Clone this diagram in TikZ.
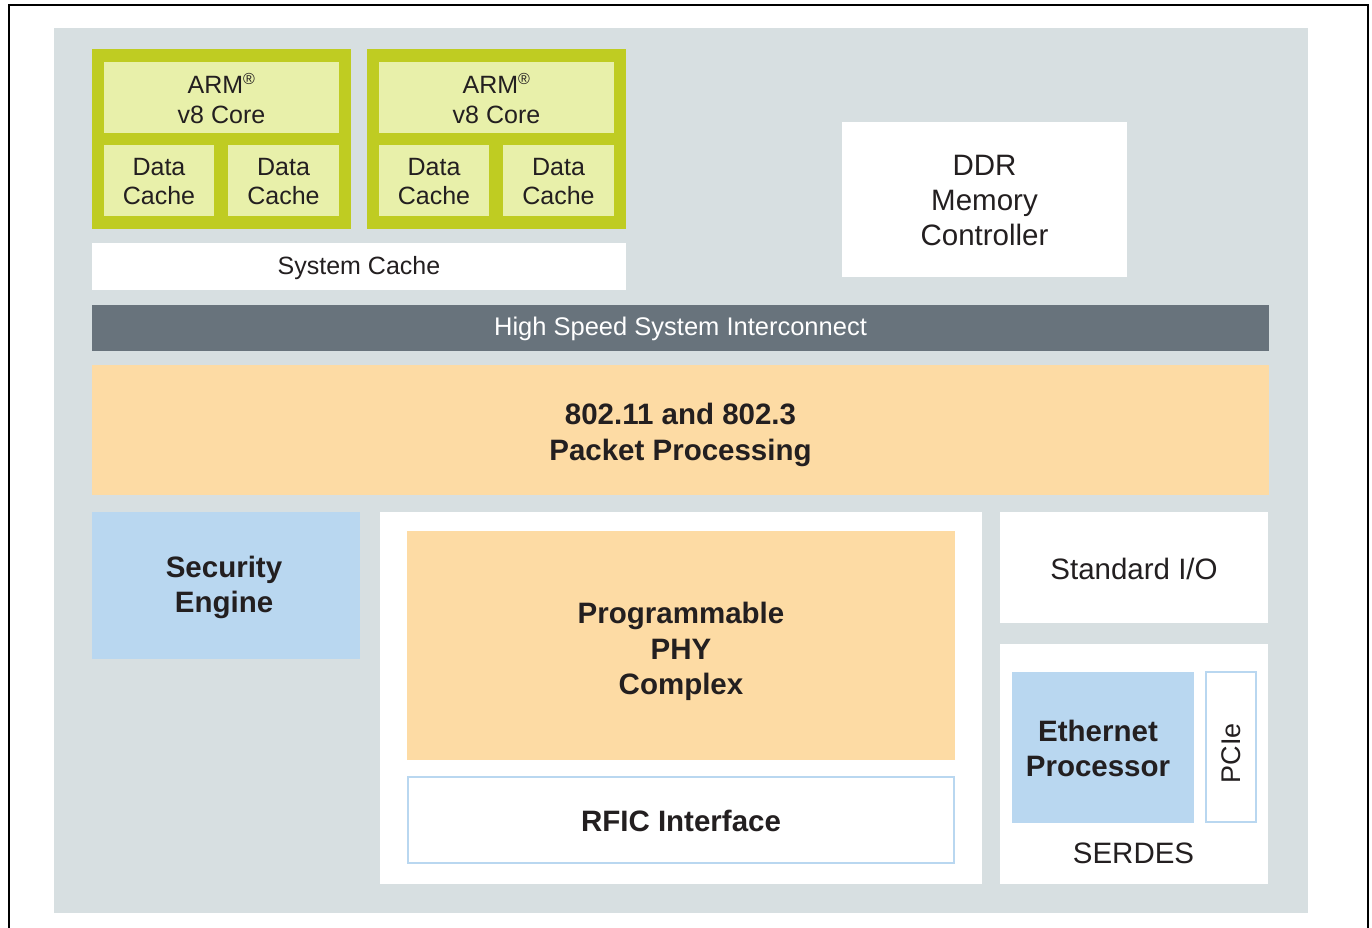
\documentclass[tikz,border=0pt]{standalone}
\usepackage{fontspec}
\setmainfont{Liberation Sans}
\usetikzlibrary{fit}
\definecolor{panel}{HTML}{D7DFE1}
\definecolor{greendark}{HTML}{BFCC22}
\definecolor{greenlight}{HTML}{E8F0AA}
\definecolor{slate}{HTML}{68737C}
\definecolor{peach}{HTML}{FDDBA4}
\definecolor{skyblue}{HTML}{B9D7F0}
\definecolor{txt}{HTML}{231F20}
\newcommand{\fsmall}{\fontsize{25}{29.5}\selectfont}
\newcommand{\fmid}{\fontsize{25.5}{30}\selectfont}
\newcommand{\fbig}{\fontsize{29.5}{35.4}\selectfont}
\newcommand{\regmark}{\textsuperscript{\fontsize{16}{16}\selectfont ®}}
\tikzset{
  blk/.style={inner sep=0pt, outer sep=0pt, draw=none, align=center, text=txt},
  plain/.style={blk, font=\fbig},
  bold/.style={blk, font=\fbig\bfseries},
  small/.style={blk, font=\fsmall},
  outlined/.style={blk, fill=white, draw=skyblue, line width=2pt},
  border/.style={draw=black, line width=2pt}
}
\begin{document}
\begin{tikzpicture}[x=1pt,y=-1pt]
\useasboundingbox (0,0) rectangle (1372,928);
\fill[white] (0,0) rectangle (1372,928);
\draw[border] (9,928) -- (9,5) -- (1368,5) -- (1368,928);
% panel
\node[blk, fill=panel, fit={(54,28) (1308,913)}] (panel) {};
% core 1
\node[blk, fill=greendark, fit={(92,49) (351,229)}] (core1) {};
\node[blk, fill=greenlight, fit={(104,62) (339,133)}] (arm1) {};
\node[small] at ([yshift=-1pt]arm1.center) {ARM\regmark\\v8 Core};
\node[blk, fill=greenlight, fit={(104,145) (214,216)}] (dc1a) {};
\node[small] at ([yshift=-1pt]dc1a.center) {Data\\Cache};
\node[blk, fill=greenlight, fit={(228,145) (339,216)}] (dc1b) {};
\node[small] at ([yshift=-1pt]dc1b.center) {Data\\Cache};
% core 2
\node[blk, fill=greendark, fit={(367,49) (626,229)}] (core2) {};
\node[blk, fill=greenlight, fit={(379,62) (614,133)}] (arm2) {};
\node[small] at ([yshift=-1pt]arm2.center) {ARM\regmark\\v8 Core};
\node[blk, fill=greenlight, fit={(379,145) (489,216)}] (dc2a) {};
\node[small] at ([yshift=-1pt]dc2a.center) {Data\\Cache};
\node[blk, fill=greenlight, fit={(503,145) (614,216)}] (dc2b) {};
\node[small] at ([yshift=-1pt]dc2b.center) {Data\\Cache};
% system cache
\node[blk, fill=white, fit={(92,243) (626,290)}] (syscache) {};
\node[small] at ([yshift=-2pt]syscache.center) {System Cache};
% DDR
\node[blk, fill=white, fit={(842,122) (1127,277)}] (ddr) {};
\node[plain] at ([yshift=-1pt]ddr.center) {DDR\\Memory\\Controller};
% interconnect
\node[blk, fill=slate, fit={(92,305) (1269,351)}] (hssi) {};
\node[blk, font=\fmid, text=white] at ([yshift=-1pt]hssi.center) {High Speed System Interconnect};
% packet processing
\node[blk, fill=peach, fit={(92,365) (1269,495)}] (pkt) {};
\node[bold] at ([yshift=-5pt]pkt.center) {802.11 and 802.3\\Packet Processing};
% security engine
\node[blk, fill=skyblue, fit={(92,512) (360,659)}] (sec) {};
\node[bold] at ([xshift=-2pt,yshift=-2pt]sec.center) {Security\\Engine};
% middle block
\node[blk, fill=white, fit={(380,512) (982,884)}] (mid) {};
\node[blk, fill=peach, fit={(407,531) (955,760)}] (phy) {};
\node[bold] at ([yshift=-6pt]phy.center) {Programmable\\PHY\\Complex};
\node[outlined, fit={(408,777) (954,863)}] (rfic) {};
\node[bold] at ([yshift=-1pt]rfic.center) {RFIC Interface};
% standard I/O
\node[blk, fill=white, fit={(1000,512) (1268,623)}] (stdio) {};
\node[plain] at ([yshift=-1pt]stdio.center) {Standard I/O};
% SERDES
\node[blk, fill=white, fit={(1000,644) (1268,884)}] (serdes) {};
\node[blk, fill=skyblue, fit={(1012,672) (1194,823)}] (eth) {};
\node[bold] at ([xshift=-5pt,yshift=-1pt]eth.center) {Ethernet\\Processor};
\node[outlined, fit={(1206,672) (1256,822)}] (pcie) {};
\node[blk, font=\fontsize{27}{32}\selectfont, rotate=90] at ([yshift=-6pt]pcie.center) {PCIe};
\node[plain] (serdeslbl) at (1133.5,853) {SERDES};
\end{tikzpicture}
\end{document}
